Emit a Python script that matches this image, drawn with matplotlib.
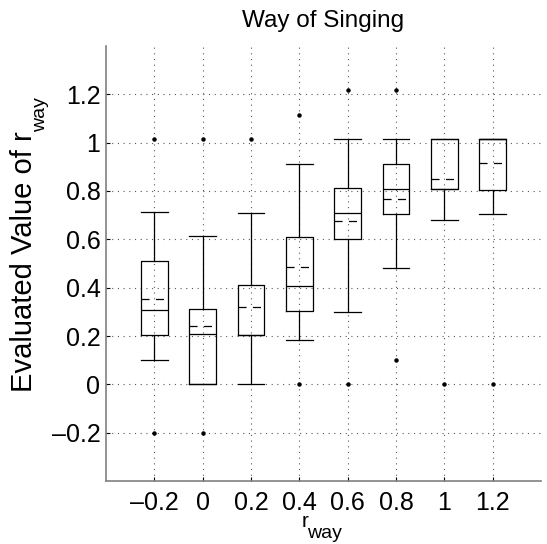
import numpy as np
import matplotlib
matplotlib.use("Agg")
import matplotlib.pyplot as plt

plt.rcParams['font.family'] = ['Liberation Sans', 'DejaVu Sans']
plt.rcParams['lines.scale_dashes'] = False

# r_way settings (box positions)
positions = [-0.2, 0.0, 0.2, 0.4, 0.6, 0.8, 1.0, 1.2]
# box statistics
whishi = [0.715, 0.614, 0.711, 0.912, 1.014, 1.014, 1.014, 1.014]
q3     = [0.510, 0.310, 0.410, 0.610, 0.813, 0.911, 1.014, 1.014]
med    = [0.308, 0.208, 0.204, 0.408, 0.707, 0.809, 0.809, 1.014]
means  = [0.352, 0.243, 0.320, 0.486, 0.674, 0.765, 0.848, 0.914]
q1     = [0.204, 0.000, 0.204, 0.303, 0.603, 0.704, 0.809, 0.806]
whislo = [0.102, 0.000, 0.000, 0.182, 0.301, 0.480, 0.682, 0.703]
fliers = [[1.014, -0.2], [1.014, -0.2], [1.014], [1.114, 0.0],
          [1.216, 0.0], [1.216, 0.1], [0.0], [0.0]]

xticks = [-0.2, 0, 0.2, 0.4, 0.6, 0.8, 1, 1.2]
xticklabels = ['\u20130.2', '0', '0.2', '0.4', '0.6', '0.8', '1', '1.2']
yticks = [-0.2, 0, 0.2, 0.4, 0.6, 0.8, 1, 1.2]
yticklabels = ['\u20130.2', '0', '0.2', '0.4', '0.6', '0.8', '1', '1.2']

W, H = 547, 544
fig = plt.figure(figsize=(W / 100, H / 100), dpi=100)
ax = fig.add_axes([106 / W, 1 - 481 / H, (541 - 106) / W, (481 - 46) / H])

stats = []
for i in range(len(positions)):
    stats.append(dict(med=med[i], q1=q1[i], q3=q3[i], whislo=whislo[i],
                      whishi=whishi[i], mean=means[i], fliers=fliers[i]))

lw = 0.9
ax.bxp(stats, positions=positions, widths=0.11, capwidths=0.11,
       showmeans=True, meanline=True, manage_ticks=False,
       boxprops=dict(color='k', linewidth=lw),
       medianprops=dict(color='k', linewidth=lw),
       meanprops=dict(color='k', linewidth=lw, linestyle=(0, (5.8, 4.6))),
       whiskerprops=dict(color='k', linewidth=lw, linestyle='-'),
       capprops=dict(color='k', linewidth=lw),
       flierprops=dict(marker='o', markersize=2.2, markerfacecolor='k',
                       markeredgecolor='k', linestyle='none'))

ax.set_xlim(-0.4, 1.4)
ax.set_ylim(-0.4, 1.4)
ax.set_xticks(xticks)
ax.set_xticklabels(xticklabels)
ax.set_yticks(yticks)
ax.set_yticklabels(yticklabels)
ax.tick_params(direction='in', length=3, width=0.8, labelsize=18, color='k')
ax.tick_params(axis='x', pad=7)
ax.tick_params(axis='y', pad=4)
ax.grid(True, color='0.35', linewidth=0.8, linestyle=(0, (0.8, 3.3)))
ax.set_axisbelow(True)

for s in ['top', 'right']:
    ax.spines[s].set_visible(False)
for s in ['left', 'bottom']:
    ax.spines[s].set_color('#808080')
    ax.spines[s].set_linewidth(1.2)

fig.text(323.5 / W, 1 - 27 / H, 'Way of Singing', ha='center', va='baseline', fontsize=17.5)

# x label: r with subscript "way"
fig.text(302 / W, 1 - 527 / H, 'r', ha='left', va='baseline', fontsize=15)
fig.text(307 / W, 1 - 538 / H, 'way', ha='left', va='baseline', fontsize=14)

# y label, subscript placed right after the main text
ylab = fig.text(32 / W, 1 - 392 / H, 'Evaluated Value of r', ha='left', va='baseline',
                rotation=90, rotation_mode='anchor', fontsize=21)
fig.canvas.draw()
ext = ylab.get_window_extent()
fig.text(45 / W, (ext.y1 - 1) / H, 'way', ha='left', va='baseline',
         rotation=90, rotation_mode='anchor', fontsize=14)

fig.savefig('out.png', dpi=100)
